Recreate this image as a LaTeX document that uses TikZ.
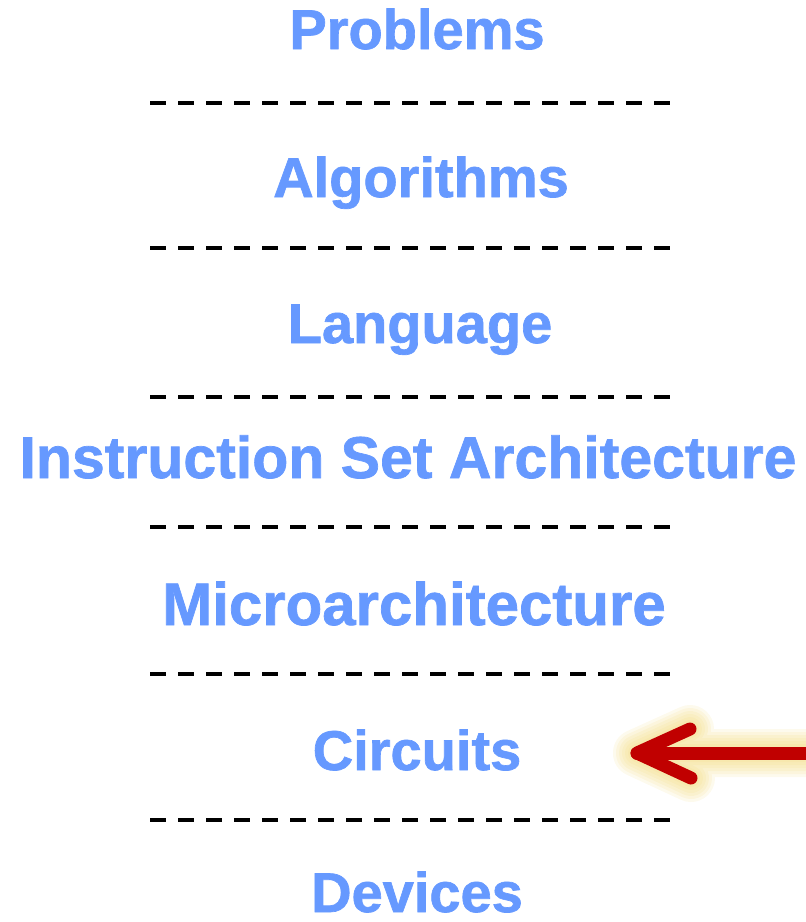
\documentclass[tikz,border=0pt]{standalone}
\usepackage{fontspec}
\setmainfont{Liberation Sans}
\newfontfamily\layerfont{Liberation Sans}[BoldFeatures={FakeBold=1.2}]
\definecolor{layerblue}{HTML}{6699FF}
\definecolor{arrowred}{HTML}{C00000}
\definecolor{glowyellow}{HTML}{F0D468}
\begin{document}
\begin{tikzpicture}[x=1pt,y=-1pt,
  layer/.style={anchor=base,inner sep=0pt,text=layerblue,font=\layerfont\fontsize{56}{60}\selectfont\bfseries},
  biglayer/.style={layer,font=\layerfont\fontsize{60}{64}\selectfont\bfseries},
  separator/.style={line width=4.5pt,dash pattern=on 16pt off 12pt},
  pointer/.style={arrowred,line width=13pt,line cap=round,line join=round},
  halo/.style={glowyellow,opacity=0.12,line cap=round,line join=round}]
  \useasboundingbox (0,0) rectangle (806,922);

  % abstraction layers, top to bottom
  \node[layer]    (problems) at (417,49)  {Problems};
  \node[layer]    (algos)    at (421,197) {Algorithms};
  \node[layer]    (lang)     at (420,343) {Language};
  \node[biglayer,font=\layerfont\fontsize{59}{63}\selectfont\bfseries] (isa) at (408,478) {Instruction Set Architecture};
  \node[biglayer] (uarch)    at (414,625) {Microarchitecture};
  \node[layer]    (circuits) at (417,770) {Circuits};
  \node[layer]    (devices)  at (417,912) {Devices};

  % dashed separators between layers
  \foreach \y in {103,248,397,527,674,820}
    \draw[separator] (150,\y) -- (670,\y);

  % pointer towards the circuits layer
  \coordinate (tail) at (812,753);
  \coordinate (tip)  at (637,753);
  \coordinate (armup) at (690,729);
  \coordinate (armdn) at (691,778);

  \begin{scope}[shift={(2,3)}]
    \foreach \w in {48,42,36,30,24,18}
      \draw[halo,line width=\w pt] (armup) -- (tip) -- (armdn) (tail) -- (tip);
  \end{scope}
  \draw[pointer] (armup) -- (tip) -- (armdn);
  \draw[pointer] (tail) -- (tip);
\end{tikzpicture}
\end{document}
